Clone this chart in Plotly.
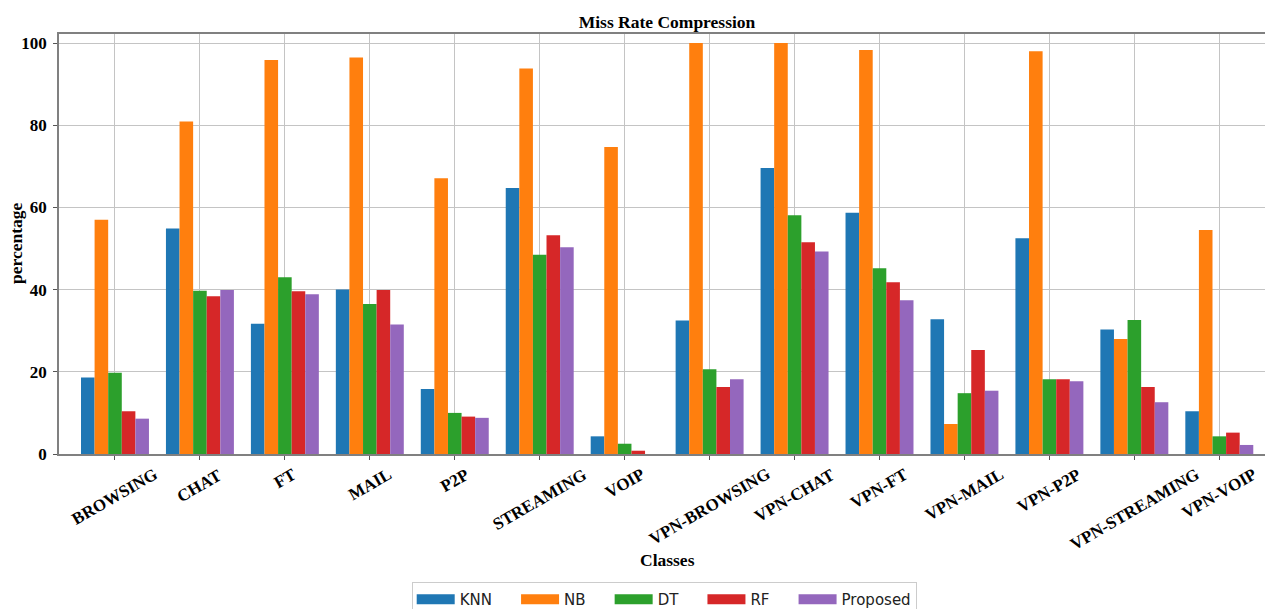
import plotly.graph_objects as go

# Traffic classes on the x axis
classes = ["BROWSING", "CHAT", "FT", "MAIL", "P2P", "STREAMING", "VOIP",
           "VPN-BROWSING", "VPN-CHAT", "VPN-FT", "VPN-MAIL", "VPN-P2P",
           "VPN-STREAMING", "VPN-VOIP"]

# Miss rate (%) per classifier
knn = [18.6, 54.9, 31.7, 40.0, 15.8, 64.7, 4.3, 32.5, 69.6, 58.7, 32.8, 52.5, 30.3, 10.4]
nb = [57.0, 80.9, 95.9, 96.5, 67.1, 93.8, 74.7, 100.0, 100.0, 98.3, 7.3, 98.0, 28.0, 54.5]
dt = [19.8, 39.7, 43.0, 36.5, 10.0, 48.5, 2.5, 20.6, 58.1, 45.2, 14.8, 18.2, 32.6, 4.3]
rf = [10.4, 38.4, 39.6, 39.9, 9.1, 53.2, 0.8, 16.3, 51.5, 41.8, 25.3, 18.2, 16.3, 5.2]
proposed = [8.6, 39.9, 38.9, 31.5, 8.8, 50.3, 0.0, 18.2, 49.3, 37.4, 15.4, 17.7, 12.6, 2.2]

series_names = ["KNN", "NB", "DT", "RF", "Proposed"]
series_values = [knn, nb, dt, rf, proposed]
series_colors = ["#1f77b4", "#ff7f0e", "#2ca02c", "#d62728", "#9467bd"]

y_ticks = [0, 20, 40, 60, 80, 100]

serif = "Liberation Serif"
W, H = 1265, 609
m_l, m_r, m_t, m_b = 59, 0, 34, 155
plot_h = H - m_t - m_b
col_space = "\u00a0" * 4  # extra room between legend columns

fig = go.Figure()
for name, vals, col in zip(series_names, series_values, series_colors):
    fig.add_trace(go.Bar(
        x=classes, y=vals, name=name, legendgroup=name, showlegend=False,
        marker=dict(color=col, line=dict(width=0)),
    ))
# Legend keys: wide flat colour patches, one per classifier
for i, (name, col) in enumerate(zip(series_names, series_colors)):
    label = name if i == len(series_names) - 1 else name + col_space
    fig.add_trace(go.Scatter(
        x=[None], y=[None], mode="lines", name=label, legendgroup=name,
        line=dict(color=col, width=10), hoverinfo="skip",
    ))

# Category labels rotated 30 degrees, centred under each tick
annotations = []
for c in classes:
    annotations.append(dict(
        x=c, xref="x", y=-8 / plot_h, yref="paper",
        text=c, showarrow=False, textangle=-30,
        xanchor="center", yanchor="top",
        font=dict(family=serif, size=17, color="black", weight="bold"),
    ))

# Axis titles
annotations.append(dict(
    x=(667 - m_l) / (W - m_l), xref="paper", y=(H - m_b - 560) / plot_h, yref="paper",
    text="<b>Classes</b>", showarrow=False, xanchor="center", yanchor="middle",
    font=dict(family=serif, size=17.5, color="black"),
))
annotations.append(dict(
    x=(16 - m_l) / (W - m_l), xref="paper", y=(H - m_b - 243) / plot_h, yref="paper",
    text="<b>percentage</b>", showarrow=False, textangle=-90,
    xanchor="center", yanchor="middle",
    font=dict(family=serif, size=17.5, color="black"),
))

fig.update_layout(
    width=W, height=H,
    margin=dict(l=m_l, r=m_r, t=m_t, b=m_b, pad=0, autoexpand=False),
    paper_bgcolor="white", plot_bgcolor="white",
    barmode="group", bargap=0.2, bargroupgap=0,
    title=dict(
        text="<b>Miss Rate Compression</b>",
        x=667 / W, xref="container", xanchor="center",
        y=1 - 22 / H, yref="container", yanchor="middle",
        font=dict(family=serif, size=17.5, color="black"),
    ),
    xaxis=dict(
        type="category", range=[-0.659, 13.538],
        showticklabels=False,
        ticks="outside", ticklen=4, tickwidth=1, tickcolor="#555555",
        showgrid=True, gridcolor="#c4c4c4", gridwidth=1,
        showline=True, linecolor="#808080", linewidth=1.5, mirror=True,
        zeroline=False,
    ),
    yaxis=dict(
        range=[0, 102.2], tickvals=y_ticks,
        ticks="outside", ticklen=4, tickwidth=1, tickcolor="#555555",
        ticklabelstandoff=3,
        tickfont=dict(family=serif, size=17, color="black", weight="bold"),
        showgrid=True, gridcolor="#c4c4c4", gridwidth=1,
        showline=True, linecolor="#808080", linewidth=1.5,
        zeroline=False,
    ),
    legend=dict(
        orientation="h", x=(411.7 - m_l) / (W - m_l), xanchor="left",
        y=(H - m_b - 582) / plot_h, yanchor="top",
        font=dict(family="DejaVu Sans", size=15, color="#222222"),
        bordercolor="#cccccc", borderwidth=1, bgcolor="white",
        itemwidth=38, itemclick="toggle",
    ),
    annotations=annotations,
    showlegend=True,
)

fig.write_html("out.html")
